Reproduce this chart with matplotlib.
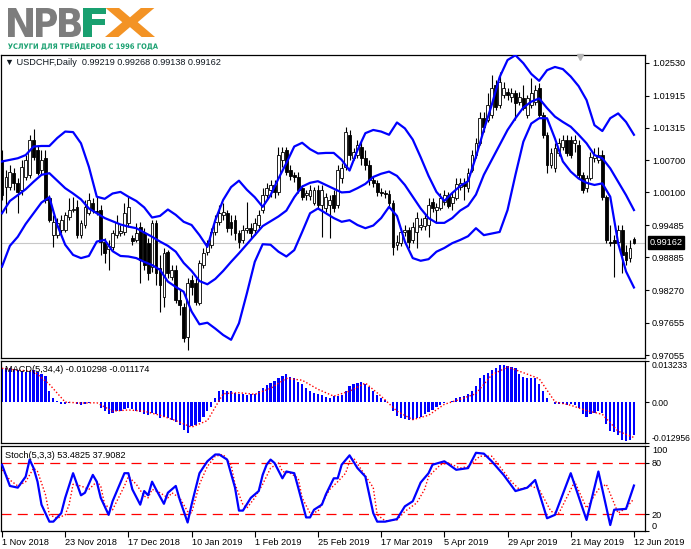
import matplotlib
matplotlib.use("Agg")
import matplotlib.pyplot as plt
from matplotlib.textpath import TextPath
from matplotlib.font_manager import FontProperties
from matplotlib.patches import PathPatch
from matplotlib.transforms import Affine2D, IdentityTransform, blended_transform_factory

plt.rcParams['font.family'] = ['Liberation Sans', 'DejaVu Sans']

# USDCHF daily bars, 1 Nov 2018 .. 12 Jun 2019
opens = [1.0071, 1.0020, 1.0020, 1.0046, 1.0028, 1.0015, 1.0039, 1.0043, 1.0108, 1.0090,
         1.0052, 1.0075, 0.9999, 0.9930, 0.9930, 0.9940, 0.9940, 0.9964, 0.9977, 0.9983,
         0.9930, 0.9949, 0.9972, 0.9990, 0.9975, 0.9977, 0.9917, 0.9904, 0.9908, 0.9930,
         0.9934, 0.9936, 0.9953, 0.9925, 0.9921, 0.9945, 0.9934, 0.9915, 0.9870, 0.9953,
         0.9868, 0.9814, 0.9899, 0.9851, 0.9865, 0.9808, 0.9795, 0.9739, 0.9846, 0.9840,
         0.9803, 0.9874, 0.9899, 0.9912, 0.9936, 0.9955, 0.9968, 0.9972, 0.9955, 0.9958,
         0.9934, 0.9921, 0.9940, 0.9943, 0.9940, 0.9949, 0.9977, 1.0005, 1.0015, 1.0024,
         1.0011, 1.0071, 1.0090, 1.0052, 1.0043, 1.0039, 1.0018, 1.0005, 1.0003, 0.9990,
         1.0015, 0.9986, 0.9981, 0.9986, 1.0005, 0.9986, 1.0037, 1.0058, 1.0118, 1.0075,
         1.0080, 1.0095, 1.0075, 1.0061, 1.0033, 1.0028, 1.0011, 1.0009, 1.0007, 0.9990,
         0.9912, 0.9915, 0.9936, 0.9940, 0.9921, 0.9936, 0.9945, 0.9947, 0.9949, 0.9992,
         0.9977, 0.9981, 0.9992, 1.0005, 0.9990, 0.9999, 1.0020, 1.0028, 1.0018, 1.0052,
         1.0080, 1.0103, 1.0149, 1.0146, 1.0155, 1.0211, 1.0174, 1.0193, 1.0198, 1.0189,
         1.0196, 1.0179, 1.0187, 1.0155, 1.0174, 1.0179, 1.0206, 1.0155, 1.0118, 1.0061,
         1.0056, 1.0084, 1.0095, 1.0108, 1.0108, 1.0103, 1.0099, 1.0043, 1.0018, 1.0037,
         1.0075, 1.0071, 1.0080, 1.0001, 0.9917, 0.9921, 0.9917, 0.9940, 0.9899, 0.9887,
         0.99219]
closes = [1.0006, 1.0039, 1.0048, 1.0028, 1.0011, 1.0058, 1.0071, 1.0108, 1.0076, 1.0046,
          1.0071, 0.9996, 0.9958, 0.9955, 0.9953, 0.9958, 0.9968, 0.9977, 0.9979, 0.9930,
          0.9953, 0.9983, 0.9996, 0.9977, 0.9973, 0.9917, 0.9897, 0.9910, 0.9934, 0.9953,
          0.9938, 0.9972, 0.9983, 0.9919, 0.9934, 0.9883, 0.9874, 0.9859, 0.9953, 0.9859,
          0.9837, 0.9897, 0.9859, 0.9865, 0.9808, 0.9799, 0.9737, 0.9840, 0.9833, 0.9805,
          0.9878, 0.9897, 0.9915, 0.9936, 0.9955, 0.9972, 0.9973, 0.9943, 0.9943, 0.9934,
          0.9917, 0.9940, 0.9943, 0.9934, 0.9953, 0.9968, 1.0005, 1.0018, 1.0024, 1.0011,
          1.0080, 1.0086, 1.0048, 1.0041, 1.0039, 1.0015, 1.0001, 1.0009, 1.0015, 1.0015,
          0.9986, 1.0015, 1.0001, 0.9996, 0.9981, 1.0052, 1.0056, 1.0123, 1.0080, 1.0086,
          1.0099, 1.0075, 1.0061, 1.0033, 1.0028, 1.0011, 1.0009, 1.0007, 0.9990, 0.9908,
          0.9917, 0.9936, 0.9940, 0.9917, 0.9945, 0.9962, 0.9949, 0.9962, 0.9986, 0.9981,
          0.9983, 0.9999, 1.0005, 0.9985, 1.0001, 1.0026, 1.0028, 1.0022, 1.0046, 1.0080,
          1.0103, 1.0149, 1.0133, 1.0174, 1.0206, 1.0170, 1.0217, 1.0206, 1.0193, 1.0196,
          1.0178, 1.0189, 1.0168, 1.0187, 1.0196, 1.0202, 1.0155, 1.0118, 1.0061, 1.0084,
          1.0093, 1.0103, 1.0108, 1.0084, 1.0080, 1.0108, 1.0043, 1.0015, 1.0037, 1.0076,
          1.0080, 1.0080, 1.0001, 0.9921, 0.9915, 0.9915, 0.9940, 0.9893, 0.9883, 0.9906,
          0.99162]
highs = [1.0090, 1.0052, 1.0061, 1.0056, 1.0037, 1.0071, 1.0080, 1.0118, 1.0129, 1.0099,
         1.0090, 1.0090, 1.0005, 0.9968, 0.9962, 0.9968, 0.9973, 0.9999, 1.0001, 0.9996,
         0.9958, 0.9996, 1.0009, 0.9999, 1.0001, 0.9986, 0.9925, 0.9921, 0.9940, 0.9968,
         0.9949, 0.9990, 1.0001, 0.9930, 0.9953, 0.9955, 0.9943, 0.9925, 0.9958, 0.9958,
         0.9893, 0.9906, 0.9902, 0.9874, 0.9874, 0.9827, 0.9803, 0.9850, 0.9855, 0.9850,
         0.9883, 0.9906, 0.9921, 0.9943, 0.9968, 0.9986, 0.9990, 0.9977, 0.9968, 0.9968,
         0.9940, 0.9949, 0.9992, 0.9953, 0.9962, 0.9977, 1.0018, 1.0028, 1.0033, 1.0033,
         1.0095, 1.0095, 1.0095, 1.0061, 1.0048, 1.0048, 1.0024, 1.0015, 1.0024, 1.0020,
         1.0024, 1.0024, 1.0009, 1.0005, 1.0015, 1.0061, 1.0065, 1.0133, 1.0127, 1.0093,
         1.0108, 1.0104, 1.0090, 1.0071, 1.0041, 1.0033, 1.0018, 1.0015, 1.0015, 0.9996,
         0.9930, 0.9943, 0.9949, 0.9945, 0.9955, 0.9973, 0.9962, 0.9972, 0.9999, 0.9999,
         0.9990, 1.0009, 1.0015, 1.0011, 1.0011, 1.0037, 1.0037, 1.0037, 1.0056, 1.0090,
         1.0112, 1.0161, 1.0161, 1.0196, 1.0230, 1.0221, 1.0236, 1.0217, 1.0206, 1.0206,
         1.0202, 1.0198, 1.0211, 1.0193, 1.0224, 1.0211, 1.0215, 1.0161, 1.0123, 1.0093,
         1.0103, 1.0112, 1.0118, 1.0118, 1.0116, 1.0118, 1.0108, 1.0048, 1.0043, 1.0086,
         1.0093, 1.0095, 1.0090, 1.0005, 0.9949, 0.9930, 0.9949, 0.9949, 0.9912, 0.9921,
         0.99268]
lows = [0.9996, 0.9972, 1.0015, 1.0015, 0.9972, 1.0005, 1.0033, 1.0037, 1.0071, 1.0043,
        1.0043, 0.9990, 0.9955, 0.9908, 0.9925, 0.9934, 0.9936, 0.9958, 0.9973, 0.9925,
        0.9925, 0.9943, 0.9968, 0.9972, 0.9968, 0.9893, 0.9878, 0.9865, 0.9902, 0.9925,
        0.9928, 0.9930, 0.9945, 0.9912, 0.9917, 0.9840, 0.9865, 0.9846, 0.9861, 0.9837,
        0.9786, 0.9795, 0.9850, 0.9846, 0.9803, 0.9780, 0.9730, 0.9715, 0.9818, 0.9799,
        0.9799, 0.9868, 0.9893, 0.9906, 0.9930, 0.9949, 0.9958, 0.9936, 0.9930, 0.9921,
        0.9906, 0.9915, 0.9934, 0.9925, 0.9930, 0.9943, 0.9972, 0.9996, 1.0001, 0.9999,
        1.0005, 1.0058, 1.0043, 1.0033, 1.0030, 1.0009, 0.9996, 0.9996, 0.9996, 0.9986,
        0.9981, 0.9927, 0.9973, 0.9925, 0.9973, 0.9981, 1.0028, 1.0052, 1.0071, 1.0071,
        1.0075, 1.0061, 1.0052, 1.0024, 1.0020, 1.0003, 1.0003, 0.9999, 0.9985, 0.9893,
        0.9902, 0.9910, 0.9928, 0.9906, 0.9915, 0.9906, 0.9940, 0.9940, 0.9927, 0.9973,
        0.9955, 0.9977, 0.9986, 0.9981, 0.9977, 0.9996, 1.0015, 0.9996, 1.0011, 1.0048,
        1.0075, 1.0099, 1.0123, 1.0142, 1.0149, 1.0164, 1.0168, 1.0187, 1.0183, 1.0179,
        1.0146, 1.0174, 1.0164, 1.0149, 1.0168, 1.0174, 1.0149, 1.0112, 1.0046, 1.0056,
        1.0048, 1.0078, 1.0090, 1.0078, 1.0075, 1.0086, 1.0037, 1.0009, 1.0011, 1.0033,
        1.0067, 1.0065, 0.9996, 0.9915, 0.9910, 0.9852, 0.9912, 0.9859, 0.9874, 0.9880,
        0.99138]

# Bollinger bands, read every 2nd bar
band_days = list(range(0, 161, 2))
bb_upper = [1.0068, 1.0071, 1.0074, 1.0080, 1.0096, 1.0097, 1.0097, 1.0112, 1.0124, 1.0123,
            1.0102, 1.0058, 1.0002, 0.9998, 1.0008, 1.0011, 1.0002, 0.9994, 0.9982, 0.9963,
            0.9966, 0.9978, 0.9968, 0.9955, 0.9949, 0.9930, 0.9908, 0.9958, 0.9996, 1.0020,
            1.0032, 1.0015, 1.0001, 0.9983, 1.0005, 1.0036, 1.0065, 1.0096, 1.0103, 1.0091,
            1.0083, 1.0084, 1.0084, 1.0071, 1.0051, 1.0089, 1.0121, 1.0127, 1.0124, 1.0118,
            1.0141, 1.0130, 1.0109, 1.0076, 1.0041, 1.0011, 0.9994, 1.0009, 1.0022, 1.0031,
            1.0077, 1.0127, 1.0174, 1.0226, 1.0258, 1.0267, 1.0252, 1.0232, 1.0219, 1.0239,
            1.0245, 1.0241, 1.0227, 1.0209, 1.0183, 1.0136, 1.0125, 1.0149, 1.0158, 1.0142,
            1.0118]
bb_mid = [0.9971, 0.9994, 1.0005, 1.0016, 1.0030, 1.0043, 1.0046, 1.0032, 1.0018, 1.0008,
          0.9997, 0.9980, 0.9971, 0.9962, 0.9956, 0.9950, 0.9946, 0.9943, 0.9935, 0.9927,
          0.9918, 0.9910, 0.9899, 0.9878, 0.9863, 0.9844, 0.9838, 0.9848, 0.9863, 0.9880,
          0.9896, 0.9913, 0.9930, 0.9947, 0.9956, 0.9965, 0.9976, 1.0001, 1.0021, 1.0028,
          1.0031, 1.0024, 1.0017, 1.0010, 1.0011, 1.0018, 1.0026, 1.0039, 1.0045, 1.0049,
          1.0041, 1.0024, 1.0002, 0.9980, 0.9962, 0.9953, 0.9953, 0.9962, 0.9976, 0.9985,
          1.0006, 1.0043, 1.0071, 1.0099, 1.0127, 1.0149, 1.0169, 1.0180, 1.0186, 1.0168,
          1.0152, 1.0142, 1.0133, 1.0118, 1.0102, 1.0080, 1.0074, 1.0055, 1.0030, 1.0005,
          0.9977]
bb_lower = [0.9871, 0.9910, 0.9927, 0.9951, 0.9971, 0.9991, 1.0001, 0.9949, 0.9912, 0.9893,
            0.9887, 0.9891, 0.9918, 0.9921, 0.9900, 0.9891, 0.9890, 0.9887, 0.9880, 0.9874,
            0.9865, 0.9843, 0.9833, 0.9824, 0.9787, 0.9763, 0.9766, 0.9755, 0.9743, 0.9734,
            0.9765, 0.9821, 0.9880, 0.9913, 0.9912, 0.9899, 0.9890, 0.9902, 0.9936, 0.9971,
            0.9980, 0.9971, 0.9962, 0.9955, 0.9958, 0.9949, 0.9943, 0.9948, 0.9962, 0.9983,
            0.9966, 0.9918, 0.9887, 0.9882, 0.9885, 0.9899, 0.9906, 0.9915, 0.9921, 0.9928,
            0.9943, 0.9930, 0.9933, 0.9936, 0.9977, 1.0043, 1.0105, 1.0139, 1.0149, 1.0149,
            1.0111, 1.0068, 1.0049, 1.0036, 1.0028, 1.0024, 1.0027, 1.0002, 0.9915, 0.9862,
            0.9832]

# MACD(5,34,4) histogram per bar, signal every 4th bar
macd_hist = [0.0111, 0.0111, 0.0109, 0.0106, 0.0103, 0.0100, 0.0098, 0.0100, 0.0103, 0.0098,
             0.0092, 0.0084, 0.0036, 0.0015, 0.0006, -0.0006, -0.0004, -0.0002, 0.0000, -0.0006,
             -0.0009, -0.0004, -0.0001, 0.0001, 0.0002, -0.0017, -0.0028, -0.0036, -0.0033, -0.0028,
             -0.0026, -0.0022, -0.0019, -0.0022, -0.0026, -0.0030, -0.0036, -0.0041, -0.0033, -0.0038,
             -0.0049, -0.0047, -0.0051, -0.0055, -0.0062, -0.0071, -0.0087, -0.0097, -0.0076, -0.0071,
             -0.0062, -0.0047, -0.0028, -0.0015, 0.0015, 0.0038, 0.0041, 0.0038, 0.0036, 0.0030,
             0.0026, 0.0026, 0.0024, 0.0026, 0.0028, 0.0036, 0.0045, 0.0056, 0.0063, 0.0068,
             0.0077, 0.0084, 0.0090, 0.0081, 0.0077, 0.0066, 0.0058, 0.0047, 0.0038, 0.0031,
             0.0026, 0.0024, 0.0017, 0.0015, 0.0020, 0.0022, 0.0024, 0.0036, 0.0052, 0.0058,
             0.0063, 0.0066, 0.0060, 0.0049, 0.0038, 0.0024, 0.0015, 0.0009, 0.0001, -0.0026,
             -0.0044, -0.0049, -0.0053, -0.0057, -0.0055, -0.0050, -0.0045, -0.0037, -0.0031, -0.0024,
             -0.0016, -0.0009, -0.0003, 0.0001, 0.0004, 0.0013, 0.0017, 0.0022, 0.0028, 0.0038,
             0.0052, 0.0077, 0.0088, 0.0094, 0.0103, 0.0110, 0.0118, 0.0120, 0.0117, 0.0113,
             0.0109, 0.0090, 0.0081, 0.0079, 0.0079, 0.0079, 0.0060, 0.0038, 0.0015, 0.0001,
             -0.0005, -0.0006, -0.0004, -0.0007, -0.0006, -0.0009, -0.0017, -0.0038, -0.0045, -0.0038,
             -0.0033, -0.0028, -0.0033, -0.0068, -0.0090, -0.0095, -0.0105, -0.0121, -0.0122, -0.0119,
             -0.0103]
signal_days = list(range(0, 161, 4))
macd_signal = [0.0109, 0.0103, 0.0100, 0.0058, 0.0001, -0.0002, -0.0001, -0.0028, -0.0024, -0.0028,
               -0.0041, -0.0058, -0.0079, -0.0058, 0.0028, 0.0031, 0.0026, 0.0045, 0.0077, 0.0071,
               0.0042, 0.0020, 0.0036, 0.0062, 0.0020, -0.0028, -0.0055, -0.0041, -0.0006, 0.0010,
               0.0028, 0.0088, 0.0113, 0.0095, 0.0076, 0.0002, -0.0009, -0.0026, -0.0038, -0.0092,
               -0.0112]

# Stochastic(5,3,3)
stoch_k_days = [0, 2, 4, 6, 7, 8, 9, 10, 12, 13, 15, 16, 18, 20, 21, 23, 24, 25, 27, 28,
                31, 32, 33, 35, 36, 37, 38, 39, 41, 42, 44, 45, 47, 48, 50, 52, 54, 55, 57, 59,
                60, 61, 63, 65, 66, 67, 68, 69, 71, 72, 74, 75, 77, 78, 79, 81, 82, 84, 85, 86,
                88, 90, 92, 94, 95, 97, 100, 102, 104, 106, 108, 109, 112, 115, 118, 120, 122, 124, 127, 130,
                133, 135, 138, 140, 144, 148, 151, 154, 155, 158, 160]
stoch_k = [78, 53, 51, 64, 84, 74, 58, 31, 11, 11, 21, 39, 68, 42, 45, 66, 58, 39, 19, 35,
           68, 68, 49, 31, 47, 42, 58, 49, 32, 45, 53, 37, 10, 31, 68, 82, 90, 90, 84, 51,
           24, 24, 39, 47, 66, 78, 84, 80, 62, 70, 68, 51, 16, 16, 25, 31, 43, 62, 62, 78,
           89, 74, 64, 21, 11, 11, 14, 29, 35, 57, 68, 78, 82, 72, 74, 92, 91, 82, 66, 47,
           51, 60, 15, 19, 68, 13, 70, 7, 25, 26, 53.48]
stoch_d_days = [0, 2, 4, 6, 8, 9, 11, 12, 14, 16, 17, 18, 20, 22, 24, 25, 26, 28, 31, 32,
                34, 36, 37, 38, 40, 42, 43, 45, 47, 48, 50, 52, 54, 56, 58, 59, 61, 62, 64, 66,
                68, 70, 71, 73, 75, 76, 78, 80, 81, 83, 85, 87, 88, 89, 91, 94, 95, 97, 100, 102,
                105, 107, 108, 111, 113, 116, 118, 121, 124, 126, 129, 131, 134, 136, 139, 141, 145, 148, 151, 153,
                156, 158, 160]
stoch_d = [72, 60, 53, 58, 74, 70, 43, 19, 15, 19, 31, 55, 53, 49, 58, 53, 31, 25, 53, 64,
           55, 41, 39, 49, 45, 39, 45, 39, 23, 21, 55, 76, 88, 90, 78, 55, 31, 27, 39, 55,
           74, 80, 70, 68, 62, 39, 21, 23, 33, 49, 58, 68, 82, 86, 72, 51, 19, 12, 13, 23,
           33, 49, 64, 78, 80, 74, 76, 88, 88, 76, 58, 49, 53, 49, 23, 21, 58, 27, 49, 55,
           21, 27, 37.91]

price_ticks = [1.02530, 1.01915, 1.01315, 1.00700, 1.00100, 0.99485, 0.98885, 0.98270, 0.97655, 0.97055]
date_days = [0, 16, 32, 48, 64, 80, 96, 112, 128, 144, 160]
date_labels = ['1 Nov 2018', '23 Nov 2018', '17 Dec 2018', '10 Jan 2019', '1 Feb 2019',
               '25 Feb 2019', '17 Mar 2019', '5 Apr 2019', '29 Apr 2019', '21 May 2019', '12 Jun 2019']
last_price = 0.99162

FS = 6.6
W, H = 691, 549
fig = plt.figure(figsize=(W / 100, H / 100), dpi=100)
ax_p = fig.add_axes([1 / W, 191 / H, 644 / W, 303 / H])
ax_m = fig.add_axes([1 / W, 106 / H, 644 / W, 82 / H])
ax_s = fig.add_axes([1 / W, 18 / H, 644 / W, 85 / H])

for ax in (ax_p, ax_m, ax_s):
    ax.set_xlim(-0.25, 162.8)
    for sp in ax.spines.values():
        sp.set_linewidth(0.9)
        sp.set_color('black')
    ax.yaxis.tick_right()
    ax.tick_params(axis='y', length=3, width=0.8, pad=2, labelsize=FS, colors='black')
    ax.tick_params(axis='x', length=0)
    ax.set_xticks([])

# --- price panel ---
days = list(range(len(closes)))
ax_p.axhline(last_price, color='#c8c8c8', lw=0.8, zorder=0.5)
ax_p.vlines(days, lows, highs, color='black', lw=0.8, zorder=2)
bull = [d for d in days if closes[d] >= opens[d]]
bear = [d for d in days if closes[d] < opens[d]]
ax_p.bar(bull, [max(closes[d] - opens[d], 0.00005) for d in bull],
         bottom=[opens[d] for d in bull], width=0.72, facecolor='white',
         edgecolor='black', linewidth=0.6, zorder=3)
ax_p.bar(bear, [opens[d] - closes[d] for d in bear],
         bottom=[closes[d] for d in bear], width=0.72, facecolor='black',
         edgecolor='black', linewidth=0.6, zorder=3)
for band in (bb_upper, bb_mid, bb_lower):
    ax_p.plot(band_days, band, color='#0000ff', lw=1.6, zorder=4,
              solid_joinstyle='round')
ax_p.set_ylim(0.96999, 1.02674)
ax_p.set_yticks(price_ticks)
ax_p.set_yticklabels(['%.5f' % v for v in price_ticks])

trans_p = blended_transform_factory(ax_p.transAxes, ax_p.transData)
ax_p.text(1.007, last_price, '%.5f' % last_price, transform=trans_p, color='white',
          fontsize=FS, va='center', ha='left', zorder=6,
          bbox=dict(boxstyle='square,pad=0.2', fc='black', ec='black'))
ax_p.text(4 / 644, 0.9736, '\u25bc USDCHF,Daily  0.99219 0.99268 0.99138 0.99162',
          transform=ax_p.transAxes, fontsize=FS, va='center', ha='left', color='#101820')
ax_p.plot([0.899], [0.992], marker='v', ms=5, color='#b4b4b4', mec='#b4b4b4',
          transform=ax_p.transAxes, clip_on=False, zorder=6)

# --- MACD panel ---
ax_m.bar(days, macd_hist, width=0.55, color='#0000ff', zorder=2)
ax_m.plot(signal_days, macd_signal, color='#ff0000', lw=1.0, ls=(0, (1, 1.5)), zorder=3)
ax_m.set_ylim(-0.012956, 0.013233)
ax_m.set_yticks([-0.012956, 0.0, 0.013233])
labs = ax_m.set_yticklabels(['-0.012956', '0.00', '0.013233'])
labs[0].set_verticalalignment('bottom')
labs[2].set_verticalalignment('top')
ax_m.tick_params(axis='y', pad=1.5, labelsize=6.2)
ax_m.text(4 / 644, 0.896, 'MACD(5,34,4) -0.010298 -0.011174', transform=ax_m.transAxes,
          fontsize=FS, va='center', ha='left', color='black', zorder=5)

# --- Stochastic panel ---
ax_s.axhline(80, color='#ff0000', lw=0.9, ls=(0, (8, 5)), zorder=1)
ax_s.axhline(20, color='#ff0000', lw=0.9, ls=(0, (8, 5)), zorder=1)
ax_s.plot(stoch_d_days, stoch_d, color='#ff0000', lw=1.0, ls=(0, (1, 1.5)), zorder=2)
ax_s.plot(stoch_k_days, stoch_k, color='#0000ff', lw=1.6, zorder=3)
ax_s.set_ylim(0, 100)
ax_s.set_yticks([0, 20, 80, 100])
labs = ax_s.set_yticklabels(['0', '20', '80', '100'])
labs[0].set_verticalalignment('bottom')
labs[3].set_verticalalignment('top')
ax_s.text(4 / 644, 0.886, 'Stoch(5,3,3) 53.4825 37.9082', transform=ax_s.transAxes,
          fontsize=FS, va='center', ha='left', color='black', zorder=5)
ax_s.set_xticks(date_days)
ax_s.set_xticklabels(date_labels, ha='left', fontsize=FS)
ax_s.tick_params(axis='x', length=4, width=0.8, pad=1, direction='out')


# --- NPBFX logo, drawn as scaled glyph outlines in pixel space ---
def glyph(txt, x0, ytop, w, h, color, family='DejaVu Sans', weight='bold'):
    tp = TextPath((0, 0), txt, size=20, prop=FontProperties(family=family, weight=weight))
    bb = tp.get_extents()
    tr = (Affine2D().translate(-bb.x0, -bb.y0)
          .scale(w / bb.width, h / bb.height)
          .translate(x0, H - ytop - h))
    fig.add_artist(PathPatch(tr.transform_path(tp), fc=color, ec='none',
                             transform=IdentityTransform()))


grey, green, orange = '#7d7d7d', '#19a070', '#f39325'
glyph('N', 8, 8, 25, 29, grey)
glyph('P', 36, 8, 21, 29, grey)
glyph('B', 59, 8, 22, 29, grey)
glyph('F', 83, 8, 23, 29, green)
glyph('X', 105, 8, 50, 29, orange)
glyph('УСЛУГИ ДЛЯ ТРЕЙДЕРОВ С 1996 ГОДА', 8, 42, 150, 8, green)

fig.savefig('out.png', dpi=100)
